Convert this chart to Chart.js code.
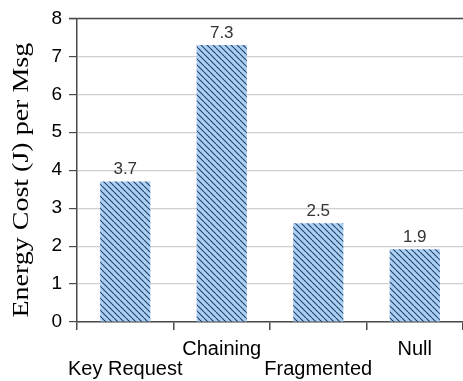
<!DOCTYPE html>
<html>
<head>
<meta charset="utf-8">
<script src="https://cdn.jsdelivr.net/npm/chart.js@4/dist/chart.umd.min.js"></script>
<style>
html,body{margin:0;padding:0;background:#fff;}
#wrap{width:463px;height:381px;position:relative;}
</style>
</head>
<body>
<div id="wrap"><canvas id="c" width="463" height="381"></canvas></div>
<script>
const categories = ['Key Request', 'Chaining', 'Fragmented', 'Null'];
const energyCost = [3.7, 7.3, 2.6, 1.92];
const valueLabels = ['3.7', '7.3', '2.5', '1.9'];
const labelRow = [1, 0, 1, 0];
const yTicks = [0, 1, 2, 3, 4, 5, 6, 7, 8];
const yTitle = 'Energy Cost (J) per Msg';

function hatch() {
  const s = 6;
  const cv = document.createElement('canvas');
  cv.width = s; cv.height = s;
  const g = cv.getContext('2d');
  g.fillStyle = '#a9d0f5';
  g.fillRect(0, 0, s, s);
  g.strokeStyle = '#2a3f66';
  g.lineWidth = 1.1;
  g.beginPath();
  [-s, 0, s].forEach(k => { g.moveTo(k, 0); g.lineTo(k + s, s); });
  g.stroke();
  return g.createPattern(cv, 'repeat');
}

const valuePlugin = {
  id: 'valueLabels',
  afterDatasetsDraw(chart) {
    const ctx = chart.ctx;
    const meta = chart.getDatasetMeta(0);
    ctx.save();
    ctx.font = '17px Arial, "Liberation Sans", sans-serif';
    ctx.fillStyle = '#333333';
    ctx.textAlign = 'center';
    ctx.textBaseline = 'middle';
    meta.data.forEach((bar, i) => {
      ctx.fillText(valueLabels[i], bar.x, bar.y - 12);
    });
    ctx.restore();
  }
};

const borderPlugin = {
  id: 'topBorder',
  afterDraw(chart) {
    const {ctx, chartArea} = chart;
    ctx.save();
    ctx.strokeStyle = '#4a4a4a';
    ctx.lineWidth = 1.5;
    ctx.beginPath();
    ctx.moveTo(chartArea.left - 8, chartArea.top);
    ctx.lineTo(chartArea.right, chartArea.top);
    ctx.stroke();
    ctx.restore();
  }
};

const titlePlugin = {
  id: 'yTitle',
  afterDraw(chart) {
    const {ctx, chartArea} = chart;
    ctx.save();
    ctx.font = '28px "Liberation Serif", "Times New Roman", serif';
    ctx.fillStyle = '#000';
    ctx.textAlign = 'center';
    ctx.textBaseline = 'middle';
    ctx.translate(22, (chartArea.top + chartArea.bottom) / 2 + 10);
    ctx.rotate(-Math.PI / 2);
    ctx.scale(1, 0.85);
    ctx.fillText(yTitle, 0, 0);
    ctx.restore();
  }
};

new Chart(document.getElementById('c'), {
  type: 'bar',
  data: {
    labels: categories,
    datasets: [{
      data: energyCost,
      backgroundColor: hatch(),
      borderWidth: 0,
      barPercentage: 0.52,
      categoryPercentage: 1.0
    }]
  },
  options: {
    responsive: false,
    animation: false,
    devicePixelRatio: 1,
    layout: { padding: { top: 18, right: 0, left: 0, bottom: 0 } },
    plugins: { legend: { display: false }, tooltip: { enabled: false } },
    scales: {
      x: {
        grid: { display: true, drawOnChartArea: false, drawTicks: true, tickLength: 8, color: '#4a4a4a', lineWidth: 1.5, offset: true },
        border: { display: true, color: '#4a4a4a', width: 1.5 },
        ticks: {
          color: '#000',
          font: { family: 'Arial, "Liberation Sans", sans-serif', size: 20, lineHeight: 1.0 },
          padding: 9,
          maxRotation: 0,
          autoSkip: false,
          callback: (v, i) => labelRow[i] ? ['', categories[i]] : [categories[i], '']
        },
        afterFit: (s) => { s.height = 59; }
      },
      y: {
        min: 0, max: 8,
        afterBuildTicks: (s) => { s.ticks = yTicks.map(v => ({ value: v })); },
        grid: { color: '#d0d0d0', lineWidth: 1.2, tickLength: 8, tickColor: '#4a4a4a' },
        border: { display: true, color: '#4a4a4a', width: 1.5 },
        ticks: {
          color: '#000',
          font: { family: 'Arial, "Liberation Sans", sans-serif', size: 19 },
          padding: 7
        },
        title: { display: false },
        afterFit: (s) => { s.width = 77; }
      }
    }
  },
  plugins: [valuePlugin, borderPlugin, titlePlugin]
});
</script>
</body>
</html>
